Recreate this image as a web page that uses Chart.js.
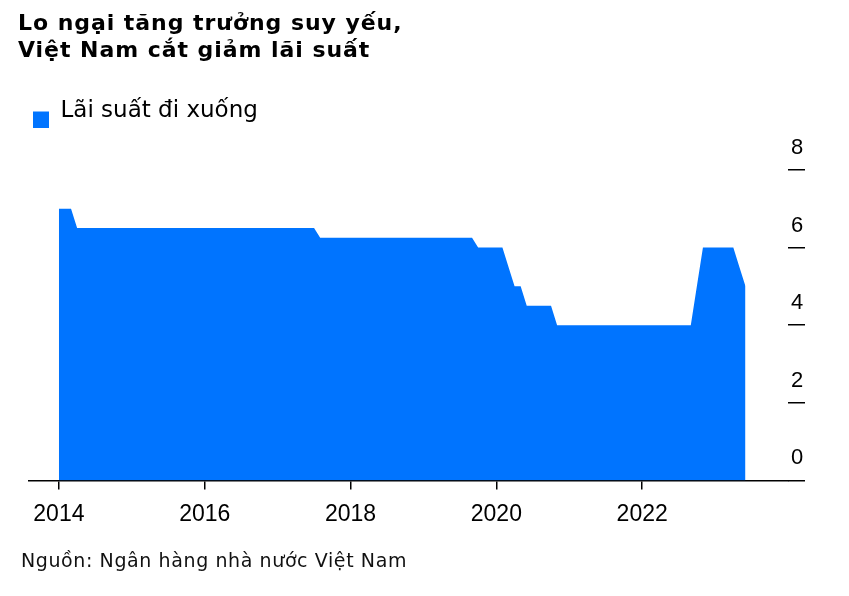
<!DOCTYPE html>
<html>
<head>
<meta charset="utf-8">
<script src="https://cdn.jsdelivr.net/npm/chart.js@4"></script>
<style>
  html, body { margin: 0; padding: 0; background: #fff; }
  #wrap { position: relative; width: 849px; height: 596px; }
  canvas { position: absolute; left: 0; top: 0; }
  .title {
    position: absolute; left: 18px; top: 8.5px;
    font: bold 22px/27.5px 'DejaVu Sans', sans-serif; color: #000;
    letter-spacing: 0.95px; white-space: nowrap;
  }
  .source {
    position: absolute; left: 21px; top: 549px;
    font: 19px/22px 'DejaVu Sans', sans-serif; color: #111;
    letter-spacing: 0.6px; white-space: nowrap;
  }
</style>
</head>
<body>
<div id="wrap">
  <canvas id="chart" width="849" height="596"></canvas>
  <div class="title">Lo ngại tăng trưởng suy yếu,<br>Việt Nam cắt giảm lãi suất</div>
  <div class="source">Nguồn: Ngân hàng nhà nước Việt Nam</div>
</div>
<script>
// lãi suất tái cấp vốn (%), các điểm đổi hướng
const dates = [
  '2014-01', '2014-03', '2014-04', '2017-07', '2017-08', '2019-09', '2019-10',
  '2020-02', '2020-03', '2020-04', '2020-05', '2020-06', '2020-10', '2020-11',
  '2022-09', '2022-10', '2022-11', '2023-04', '2023-05', '2023-06',
];
const rates = [
  7.0, 7.0, 6.5, 6.5, 6.25, 6.25, 6.0,
  6.0, 5.5, 5.0, 5.0, 4.5, 4.5, 4.0,
  4.0, 5.0, 6.0, 6.0, 5.5, 5.0,
];
const xTicks = [2014, 2016, 2018, 2020, 2022];
const yTicks = [0, 2, 4, 6, 8];
const seriesLabel = 'Lãi suất đi xuống';

const BLUE = '#0074ff';
const toYear = (d) => {
  const [y, m] = d.split('-').map(Number);
  return y + (m - 1) / 12;
};

// ô màu chú thích nằm thấp hơn giữa dòng chữ một chút
const legendSwatch = document.createElement('canvas');
legendSwatch.width = 16;
legendSwatch.height = 32;
const sw = legendSwatch.getContext('2d');
sw.fillStyle = BLUE;
sw.fillRect(0, 16, 16, 16);

new Chart(document.getElementById('chart'), {
  type: 'line',
  data: {
    datasets: [
      {
        label: seriesLabel,
        data: dates.map((d, i) => ({ x: toYear(d), y: rates[i] })),
        fill: 'origin',
        backgroundColor: BLUE,
        borderColor: BLUE,
        borderWidth: 0,
        pointRadius: 0,
        tension: 0,
      },
    ],
  },
  options: {
    responsive: false,
    animation: false,
    devicePixelRatio: 1,
    layout: { padding: { top: 96, left: 29, right: 31, bottom: 57 } },
    plugins: {
      legend: {
        position: 'top',
        align: 'start',
        labels: {
          usePointStyle: true,
          pointStyle: legendSwatch,
          boxWidth: 16,
          boxHeight: 16,
          padding: 4,
          color: '#000',
          font: { family: 'DejaVu Sans', size: 23 },
        },
      },
      tooltip: { enabled: false },
    },
    scales: {
      x: {
        type: 'linear',
        min: 2013.59,
        max: 2024,
        afterBuildTicks: (s) => {
          s.ticks = xTicks.map((v) => ({ value: v }));
        },
        grid: {
          drawOnChartArea: false,
          tickLength: 9,
          tickColor: '#000',
          lineWidth: 1.5,
        },
        border: { color: '#000', width: 1.5 },
        ticks: {
          padding: 11,
          maxRotation: 0,
          autoSkip: false,
          color: '#000',
          font: { family: 'Liberation Sans', size: 23 },
          callback: (v) => String(v),
        },
      },
      y: {
        position: 'right',
        min: 0,
        max: 8.95,
        afterBuildTicks: (s) => {
          s.ticks = yTicks.map((v) => ({ value: v }));
        },
        // nhãn nằm ngay trên vạch chia, nên cố định bề rộng trục
        afterFit: (s) => {
          s.width = 30;
        },
        grid: {
          drawOnChartArea: false,
          tickLength: 17,
          tickColor: '#000',
          lineWidth: 1.5,
        },
        border: { display: false },
        ticks: {
          padding: -14,
          crossAlign: 'center',
          labelOffset: -22,
          color: '#000',
          font: { family: 'Liberation Sans', size: 22 },
        },
      },
    },
  },
});
</script>
</body>
</html>
